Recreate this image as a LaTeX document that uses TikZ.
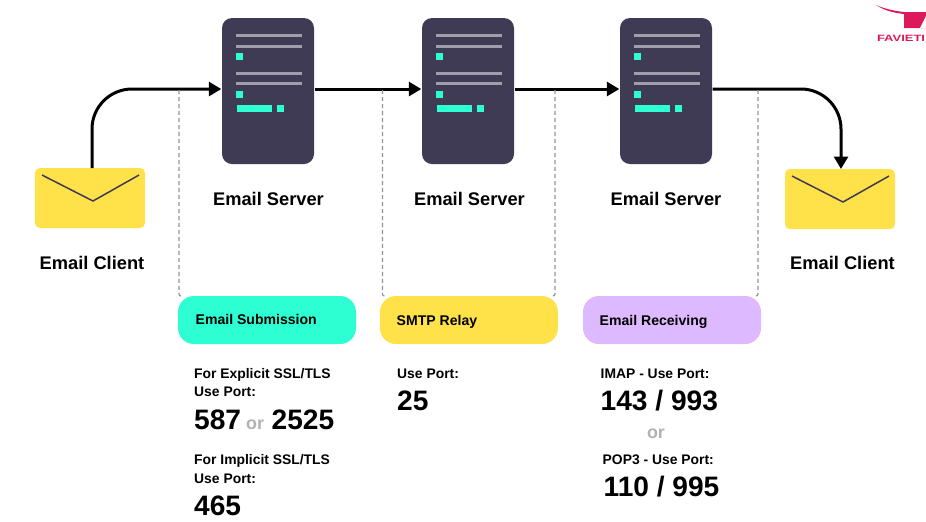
\documentclass[tikz,border=0pt]{standalone}
\usepackage{fontspec}
\setmainfont{Liberation Sans}
\usepackage{xcolor}
\usetikzlibrary{arrows.meta,calc}
\definecolor{srvdark}{HTML}{3F3B54}
\definecolor{srvline}{HTML}{A09EAB}
\definecolor{teal}{HTML}{2DFFD2}
\definecolor{mailyel}{HTML}{FFE14A}
\definecolor{lilac}{HTML}{DDB9FF}
\definecolor{logored}{HTML}{DC1A5A}
\newcommand{\fs}[1]{\fontsize{#1}{#1}\selectfont\bfseries}
\tikzset{
  server/.style={fill=srvdark,rounded corners=0.1cm,minimum width=0.92cm,minimum height=1.46cm,inner sep=0pt},
  envelope/.style={fill=mailyel,rounded corners=0.05cm,minimum width=1.1cm,minimum height=0.6cm,inner sep=0pt},
  stepbox/.style={rounded corners=0.16cm,minimum width=1.78cm,minimum height=0.48cm,inner sep=0pt},
  flow/.style={line width=0.03cm,black},
  tip/.style={flow,-{Triangle[length=0.125cm,width=0.14cm]}},
  tap/.style={gray!85,line width=0.012cm,dash pattern=on 0.04cm off 0.03cm,rounded corners=0.02cm},
  title/.style={anchor=base,inner sep=0pt,font=\fs{5.2}},
  boxtext/.style={anchor=base west,inner sep=0pt,font=\fs{4}},
  small/.style={anchor=base west,inner sep=0pt,font=\fs{3.95}},
  port/.style={anchor=base west,inner sep=0pt,font=\fs{8}},
  ortext/.style={anchor=base west,inner sep=0pt,font=\fs{5.1},text=gray!60}
}
\begin{document}
\begin{tikzpicture}
\useasboundingbox (0,0) rectangle (9.26,-5.21);
\clip (0,0) rectangle (9.26,-5.21);

\node[server] (srvA) at (2.68,-0.91) {};
\node[server] (srvB) at (4.68,-0.91) {};
\node[server] (srvC) at (6.66,-0.91) {};
\foreach \s in {srvA,srvB,srvC}{
  \foreach \y in {0.18,0.29,0.56,0.66}
    \fill[srvline] ([shift={(0.15,-\y-0.015)}]\s.north west) rectangle ++(0.66,0.03);
  \fill[teal] ([shift={(0.15,-0.36)}]\s.north west) rectangle ++(0.07,-0.07);
  \fill[teal] ([shift={(0.15,-0.74)}]\s.north west) rectangle ++(0.07,-0.07);
  \fill[teal] ([shift={(0.16,-0.88)}]\s.north west) rectangle ++(0.35,-0.07);
  \fill[teal] ([shift={(0.56,-0.88)}]\s.north west) rectangle ++(0.07,-0.07);
}

\node[envelope] (mailL) at (0.90,-1.98) {};
\node[envelope] (mailR) at (8.40,-1.99) {};
\draw[srvdark,line width=0.015cm] (0.42,-1.75)--(0.93,-2.01)--(1.39,-1.75);
\draw[srvdark,line width=0.015cm] (7.92,-1.76)--(8.43,-2.02)--(8.89,-1.76);

\node[stepbox,fill=teal] (subBox) at (2.67,-3.20) {};
\node[stepbox,fill=mailyel] (relayBox) at (4.69,-3.20) {};
\node[stepbox,fill=lilac] (recvBox) at (6.72,-3.20) {};

\coordinate (upL) at (0.92,-1.68);
\coordinate (dnR) at (8.41,-1.69);
\draw[tip,rounded corners=0.4cm] (upL) |- ([yshift=0.02cm]srvA.west);
\draw[tip] ([yshift=0.02cm]srvA.east) -- ([yshift=0.02cm]srvB.west);
\draw[tip] ([yshift=0.02cm]srvB.east) -- ([yshift=0.02cm]srvC.west);
\draw[tip,rounded corners=0.4cm] ([yshift=0.02cm]srvC.east) -| (dnR);

\draw[tap] (1.79,-0.90) |- ++(0.03,-2.06);
\draw[tap] (3.825,-0.90) |- ++(0.03,-2.06);
\draw[tap] (5.55,-0.90) |- ++(-0.03,-2.06);
\draw[tap] (7.58,-0.90) |- ++(-0.03,-2.06);

\node[title] (srvAlab) at (2.685,-2.05) {Email Server};
\node[title] (srvBlab) at (4.695,-2.05) {Email Server};
\node[title] (srvClab) at (6.66,-2.05) {Email Server};
\node[title] (mailLlab) at (0.92,-2.69) {Email Client};
\node[title] (mailRlab) at (8.425,-2.69) {Email Client};

\node[boxtext] (subTxt) at (1.95,-3.24) {Email Submission};
\node[boxtext] (relayTxt) at (3.96,-3.25) {SMTP Relay};
\node[boxtext] (recvTxt) at (5.99,-3.25) {Email Receiving};

\node[small] (expA) at (1.935,-3.78) {For Explicit SSL/TLS};
\node[small] (expB) at (1.935,-3.96) {Use Port:};
\node[port] (p587) at (1.935,-4.29) {587};
\node[ortext] (orA) at (2.455,-4.29) {or};
\node[port] (p2525) at (2.71,-4.29) {2525};
\node[small] (impA) at (1.935,-4.64) {For Implicit SSL/TLS};
\node[small] (impB) at (1.935,-4.83) {Use Port:};
\node[port] (p465) at (1.935,-5.15) {465};

\node[small] (relayA) at (3.965,-3.78) {Use Port:};
\node[port] (p25) at (3.965,-4.10) {25};

\node[small] (imapA) at (6.00,-3.78) {IMAP - Use Port:};
\node[port] (p143) at (6.00,-4.10) {143 / 993};
\node[ortext,anchor=base] (orB) at (6.56,-4.38) {or};
\node[small] (popA) at (6.02,-4.64) {POP3 - Use Port:};
\node[port] (p110) at (6.03,-4.96) {110 / 995};

% logo cut off by the page edge
\fill[logored] (8.76,-0.05) .. controls (8.85,-0.09) and (8.95,-0.11) .. (9.04,-0.12)
  -- (9.26,-0.12) -- (9.26,-0.28) -- (9.04,-0.28) -- (9.04,-0.14)
  .. controls (8.95,-0.13) and (8.85,-0.11) .. (8.76,-0.05);
\fill[white] (9.20,-0.28) -- (9.26,-0.16) -- (9.26,-0.27) -- (9.255,-0.28) -- cycle;
\node[anchor=base west,inner sep=0pt,font=\fs{2.6},text=logored,xscale=1.42] (logoTxt) at (8.76,-0.41) {FAVIETI};
\end{tikzpicture}
\end{document}
